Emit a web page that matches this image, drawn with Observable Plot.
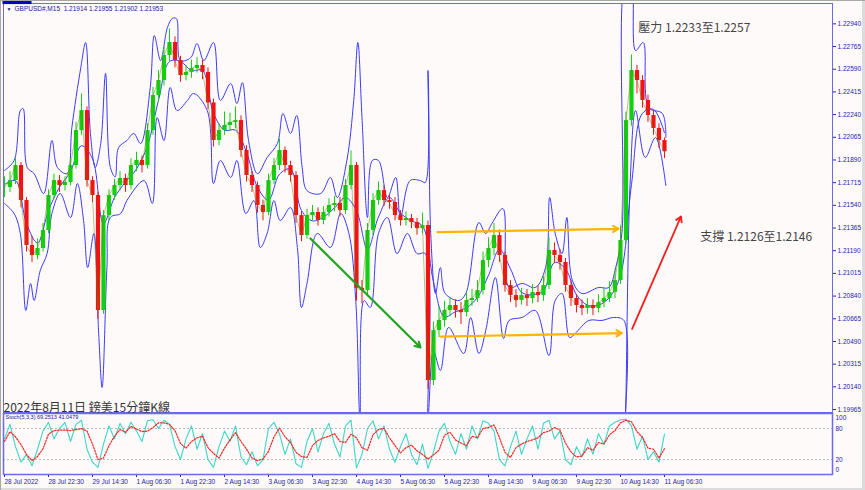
<!DOCTYPE html>
<html><head><meta charset="utf-8">
<script src="https://cdn.jsdelivr.net/npm/d3@7"></script>
<script src="https://cdn.jsdelivr.net/npm/@observablehq/plot@0.6"></script>
<style>
body{margin:0;background:#fffafa;}
#wrap{position:relative;width:865px;height:490px;background:#fffafa;overflow:hidden;}
#main{position:absolute;left:0;top:0;}
#stoch{position:absolute;left:0;top:412px;}
#edge{position:absolute;left:0;top:0;width:865px;height:490px;pointer-events:none;box-shadow: inset 1px 1px 0 #a8a8a8, inset -3px -2px 0 #dcdcdc;}
</style></head><body><div id="wrap"><div id="main"></div><div id="stoch"></div><div id="edge"></div></div>
<script>
// ---- data ----
const barStep = 8; // one aggregated candle every 8 M15 bars
const closes = [
1.21677,1.21731,1.21847,1.21577,1.21230,1.21153,1.21207,1.21346,1.21616,1.21731,
1.21693,1.21716,1.21847,1.22117,1.22271,1.21731,1.21616,1.20729,1.21461,1.21616,
1.21693,1.21747,1.21693,1.21847,1.21886,1.21847,1.22117,1.22387,1.22503,1.22696,
1.22796,1.22657,1.22541,1.22565,1.22595,1.22619,1.22565,1.22330,1.22040,1.22117,
1.22156,1.22179,1.22194,1.21963,1.21770,1.21693,1.21539,1.21485,1.21731,1.21847,
1.21963,1.21847,1.21770,1.21461,1.21307,1.21461,1.21485,1.21423,1.21485,1.21539,
1.21554,1.21500,1.21693,1.21847,1.20900,1.20883,1.21346,1.21577,1.21654,1.21577,
1.21562,1.21461,1.21423,1.21438,1.21407,1.21361,1.21384,1.20189,1.20574,1.20652,
1.20729,1.20767,1.20729,1.20713,1.20806,1.20821,1.20883,1.21114,1.21207,1.21307,
1.21153,1.20922,1.20844,1.20806,1.20844,1.20821,1.20868,1.20844,1.20922,1.21192,
1.21153,1.21099,1.20922,1.20821,1.20767,1.20744,1.20767,1.20744,1.20790,1.20821,
1.20868,1.20960,1.21269,1.22194,1.22580,1.22503,1.22349,1.22233,1.22133,1.22040,
1.21953];
const highs = [
1.21760,1.21800,1.21900,1.21870,1.21600,1.21300,1.21280,1.21400,1.21660,1.21780,
1.21770,1.21760,1.21900,1.22180,1.22400,1.22300,1.21760,1.21640,1.21500,1.21660,
1.21740,1.21800,1.21780,1.21900,1.21950,1.21920,1.22170,1.22450,1.22580,1.22760,
1.22900,1.22840,1.22690,1.22620,1.22660,1.22680,1.22660,1.22600,1.22360,1.22170,
1.22260,1.22250,1.22300,1.22230,1.22000,1.21800,1.21720,1.21580,1.21780,1.21900,
1.22050,1.21990,1.21880,1.21800,1.21490,1.21510,1.21540,1.21520,1.21530,1.21590,
1.21610,1.21600,1.21740,1.21960,1.21870,1.20960,1.21400,1.21630,1.21720,1.21690,
1.21620,1.21600,1.21500,1.21490,1.21470,1.21440,1.21480,1.21420,1.20640,1.20760,
1.20800,1.20830,1.20810,1.20790,1.20870,1.20890,1.20960,1.21180,1.21290,1.21400,
1.21350,1.21180,1.20960,1.20890,1.20900,1.20890,1.20930,1.20920,1.20990,1.21290,
1.21250,1.21200,1.21130,1.20960,1.20850,1.20810,1.20820,1.20810,1.20850,1.20900,
1.20950,1.21040,1.21380,1.22260,1.22700,1.22620,1.22540,1.22390,1.22270,1.22170,
1.22060];
const lows = [
1.21600,1.21640,1.21700,1.21520,1.21180,1.21100,1.21120,1.21180,1.21320,1.21590,
1.21640,1.21650,1.21690,1.21820,1.22080,1.21680,1.21560,1.20660,1.20700,1.21420,
1.21580,1.21650,1.21640,1.21660,1.21800,1.21790,1.21820,1.22080,1.22340,1.22460,
1.22650,1.22600,1.22490,1.22500,1.22520,1.22560,1.22510,1.22280,1.21990,1.22000,
1.22080,1.22110,1.22130,1.21910,1.21720,1.21640,1.21480,1.21420,1.21460,1.21700,
1.21810,1.21790,1.21720,1.21400,1.21260,1.21280,1.21420,1.21380,1.21390,1.21450,
1.21490,1.21450,1.21470,1.21660,1.20800,1.20780,1.20850,1.21310,1.21540,1.21530,
1.21510,1.21420,1.21380,1.21380,1.21360,1.21310,1.21320,1.20120,1.20150,1.20520,
1.20600,1.20680,1.20670,1.20620,1.20680,1.20760,1.20790,1.20850,1.21060,1.21150,
1.21100,1.20870,1.20790,1.20750,1.20770,1.20760,1.20780,1.20790,1.20800,1.20890,
1.21090,1.21040,1.20870,1.20760,1.20710,1.20690,1.20700,1.20690,1.20710,1.20750,
1.20790,1.20820,1.20930,1.21240,1.22150,1.22400,1.22290,1.22180,1.22080,1.21980,
1.21900];
const upperBars = [0,14,23,27,33,43,57,69,77,91,98,111,118,125,132,140,147,154,161,166,178,188,198,212,218,227,237,244,250,256,271,280,290,304,314,329,338,346,355,368,382,397,405,416,425,433,440,460,474,484,498,508,514,520,528,535,544,557,569,576,590,605,612,616,620,627,634,641,661,671,690,700,709,725,734,753,772,787,793,801,811,818,826,840,864,879,889,898,904,911,918,929,937,957,962];
const upperVals = [1.21809,1.21886,1.22271,1.22287,1.21832,1.21785,1.21631,1.22040,1.21832,1.21785,1.22140,1.22603,1.22796,1.22094,1.21832,1.22017,1.22557,1.21832,1.21760,1.21986,1.22040,1.22094,1.22017,1.22449,1.22850,1.22657,1.22912,1.22981,1.22981,1.22657,1.22680,1.22788,1.22657,1.22796,1.22349,1.22480,1.22325,1.22487,1.22040,1.21785,1.21909,1.22017,1.22248,1.22094,1.22233,1.21832,1.21654,1.21631,1.21755,1.21600,1.21886,1.22349,1.22796,1.22217,1.21446,1.21886,1.21886,1.21600,1.21755,1.21446,1.21731,1.21731,1.21716,1.22580,1.21323,1.20860,1.21060,1.20860,1.20806,1.20860,1.21407,1.21323,1.21400,1.21515,1.20906,1.20937,1.20906,1.21060,1.21600,1.21323,1.21168,1.21446,1.20960,1.20860,1.20906,1.20906,1.21060,1.21323,1.2330,1.2330,1.22734,1.22796,1.22295,1.22248,1.22063];
const lowerBars = [0,14,23,31,38,43,52,62,69,81,96,106,115,121,130,137,142,149,154,169,178,203,215,222,232,241,251,266,275,295,304,314,329,338,351,363,372,382,392,401,416,426,432,440,455,474,489,501,511,517,523,532,544,557,571,586,600,612,616,624,634,646,668,678,690,700,714,726,734,753,772,792,801,811,822,830,850,869,886,901,903,910,918,932,947,962];
const lowerVals = [1.21554,1.21477,1.21323,1.20729,1.20937,1.20806,1.21037,1.21168,1.21477,1.21631,1.21446,1.21708,1.21423,1.21060,1.21323,1.20551,1.20135,1.21060,1.21446,1.21477,1.21577,1.21731,1.21554,1.22217,1.22040,1.22449,1.22271,1.22349,1.22403,1.22270,1.21708,1.21886,1.21755,1.21886,1.21477,1.21577,1.21215,1.21323,1.21577,1.21423,1.21523,1.21215,1.20752,1.20937,1.21323,1.21215,1.21477,1.21323,1.20800,1.1990,1.20806,1.20752,1.21323,1.21446,1.21168,1.21323,1.21168,1.21168,1.1990,1.20420,1.20266,1.20598,1.20397,1.20675,1.20397,1.20574,1.20983,1.20513,1.20652,1.20675,1.20729,1.20381,1.20806,1.20860,1.20520,1.20551,1.20652,1.20652,1.20675,1.20652,1.1990,1.21708,1.22271,1.21909,1.22063,1.21693];
const midStep = 16;
const midVals = [1.2170,1.2173,1.2140,1.2125,1.2150,1.2168,1.2180,1.2200,1.2190,1.2140,1.2160,1.2172,1.2182,1.2200,1.2235,1.2265,1.2265,1.2258,1.2258,1.2225,1.2212,1.2212,1.2195,1.2168,1.2158,1.2178,1.2182,1.2150,1.2142,1.2145,1.2152,1.2160,1.2150,1.2120,1.2145,1.2160,1.2148,1.2142,1.2138,1.2095,1.2068,1.2072,1.2075,1.2083,1.2100,1.2120,1.2105,1.2087,1.2085,1.2088,1.2110,1.2105,1.2085,1.2077,1.2077,1.2083,1.2100,1.2170,1.2225,1.2228,1.2210];
const stochK = [60,88,45,15,30,8,40,75,92,60,80,
92,55,88,96,40,15,5,50,85,60,
90,70,92,75,55,95,97,80,96,88,
45,20,60,85,40,70,20,5,45,75,
55,85,25,10,35,8,20,80,92,70,
30,60,12,5,55,80,35,70,90,50,
25,85,96,4,30,80,95,60,85,40,
15,45,70,30,10,50,3,35,75,90,
55,30,70,40,85,60,95,90,75,20,
8,45,75,30,60,85,40,90,96,60,
75,20,10,45,25,60,30,70,50,85,
92,97,98,85,40,65,20,35,15,69.25];
const stochD = [55,74,64,49,30,18,26,41,69,76,77,
77,76,78,80,75,50,20,23,47,65,
78,73,84,79,74,75,82,91,91,88,
76,51,42,55,62,65,43,32,23,42,
58,72,55,40,23,18,21,36,64,81,
64,53,34,26,24,47,57,62,65,70,
55,53,69,62,43,38,68,78,80,62,
47,33,43,48,37,30,21,29,38,67,
73,58,52,47,65,62,80,82,87,62,
34,24,43,50,55,58,62,72,75,82,
77,52,35,25,27,43,38,53,50,68,
76,91,96,93,74,63,42,40,23,41.05];
const stochLevels = [20, 80];
const stochTicks = [0, 20, 80, 100];
const priceTicks = [1.22940,1.22765,1.22590,1.22415,1.22240,1.22065,1.21890,1.21715,1.21540,1.21365,1.21190,1.21015,1.20840,1.20665,1.20490,1.20315,1.20140,1.19965];
const timeBars = [0,64,128,192,256,320,384,448,512,576,640,704,768,832,896,960];
const timeLabels = ["28 Jul 2022","28 Jul 22:30","29 Jul 14:30","1 Aug 06:30","1 Aug 22:30","2 Aug 14:30","3 Aug 06:30","3 Aug 22:30","4 Aug 14:30","5 Aug 06:30","5 Aug 22:30","8 Aug 14:30","9 Aug 06:30","9 Aug 22:30","10 Aug 14:30","11 Aug 06:30"];
const headerText = "GBPUSD#,M15  1.21914 1.21955 1.21902 1.21953";
const stochText = "Stoch(5,3,3) 69.2513 41.0479";
const titleText = "2022年8月11日 鎊美15分鐘K線";
const notes = [
  {bar: 922, price: 1.22904, text: "壓力 1.2233至1.2257"},
  {bar: 1012, price: 1.21292, text: "支撐 1.2126至1.2146"}
];
const arrows = [
  {b1: 445, p1: 1.21284, b2: 605, p2: 1.20443, color: "#1fa51f", w: 2.2},
  {b1: 630, p1: 1.21333, b2: 893, p2: 1.21359, color: "#ffb400", w: 2.2},
  {b1: 634, p1: 1.20528, b2: 898, p2: 1.20554, color: "#ffb400", w: 2.2},
  {b1: 913, p1: 1.20587, b2: 984, p2: 1.21454, color: "#ff1a1a", w: 1.8}
];

// ---- derived tables ----
const candles = closes.map((c, i) => ({bar: i * barStep, open: i ? closes[i - 1] : c, close: c, high: highs[i], low: lows[i]}));
const upCandles = candles.filter(d => d.close >= d.open);
const downCandles = candles.filter(d => d.close < d.open);
const upper = upperBars.map((b, i) => ({bar: b, v: upperVals[i]}));
const lower = lowerBars.map((b, i) => ({bar: b, v: lowerVals[i]}));
const mid = midVals.map((v, i) => ({bar: i * midStep, v}));
const stoch = stochK.map((k, i) => ({bar: i * barStep, k, d: stochD[i]}));
const lastClose = closes[closes.length - 1];

const xDomain = [-1.45, 1204.4];
const font = "Liberation Sans, Arial, sans-serif";
const cjk = "Noto Sans CJK TC, Noto Sans CJK SC, sans-serif";
const blue = "#3a3aff";
const axisColor = "#2323b0";
const upColor = "#10d010", downColor = "#f01414";

const main = Plot.plot({
  width: 865, height: 413,
  marginLeft: 3, marginRight: 33, marginTop: 3, marginBottom: 1,
  x: {domain: xDomain, axis: null},
  y: {domain: [1.19942, 1.23097], axis: null},
  style: {background: "transparent", fontFamily: font, fontSize: "6.5px", color: axisColor},
  marks: [
    Plot.line(upper, {x: "bar", y: "v", stroke: blue, strokeWidth: 1, clip: true, curve: "catmull-rom"}),
    Plot.line(lower, {x: "bar", y: "v", stroke: blue, strokeWidth: 1, clip: true, curve: "catmull-rom"}),
    Plot.line(mid, {x: "bar", y: "v", stroke: blue, strokeWidth: 1, clip: true, curve: "catmull-rom"}),
    Plot.ruleX(downCandles, {x: "bar", y1: "low", y2: "high", stroke: downColor, strokeWidth: 1, clip: true}),
    Plot.ruleX(upCandles, {x: "bar", y1: "low", y2: "high", stroke: upColor, strokeWidth: 1, clip: true}),
    Plot.ruleX(downCandles, {x: "bar", y1: "open", y2: "close", stroke: downColor, strokeWidth: 4.2, clip: true}),
    Plot.ruleX(upCandles, {x: "bar", y1: "open", y2: "close", stroke: upColor, strokeWidth: 4.2, clip: true}),
    Plot.line(candles, {x: "bar", y: "close", stroke: "#6f7f00", strokeWidth: 0.8, strokeOpacity: 0.6, clip: true}),
    Plot.arrow(arrows, {x1: "b1", y1: "p1", x2: "b2", y2: "p2", stroke: "color", strokeWidth: "w", headLength: 9}),
    Plot.axisY({anchor: "right", ticks: priceTicks, tickFormat: d => d.toFixed(5), tickSize: 3, tickPadding: 2, fontSize: 6.5, label: null}),
    Plot.frame({stroke: "#6a6af0"}),
    Plot.text([headerText], {frameAnchor: "top-left", dx: 11, dy: 3, lineAnchor: "top", textAnchor: "start", fill: "#18189a", fontSize: 6.5}),
    Plot.text(["▼"], {frameAnchor: "top-left", dx: 3, dy: 4, lineAnchor: "top", textAnchor: "start", fill: "#18189a", fontSize: 5}),
    Plot.text(notes, {x: "bar", y: "price", text: "text", textAnchor: "start", fill: "#444", fontSize: 12, fontFamily: cjk}),
    Plot.text([titleText], {frameAnchor: "bottom-left", dx: 0, dy: -1, lineAnchor: "bottom", textAnchor: "start", fill: "#333", fontSize: 12, fontFamily: cjk}),
    Plot.text([lastClose], {y: d => d, text: d => d.toFixed(5), frameAnchor: "right", dx: 3, textAnchor: "start", fill: "white", fontSize: 6.5, className: "curprice"})
  ]
});
document.getElementById("main").appendChild(main);
// background box for the current-price label
d3.select(main).selectAll("g.curprice text").each(function() {
  const b = this.getBBox();
  d3.select(this.parentNode).insert("rect", "text")
    .attr("x", b.x - 1).attr("y", b.y - 0.5).attr("width", 29).attr("height", b.height + 1)
    .attr("fill", "#0000c8");
});

const st = Plot.plot({
  width: 865, height: 78,
  marginLeft: 3, marginRight: 33, marginTop: 1, marginBottom: 16,
  x: {domain: xDomain, axis: null},
  y: {domain: [-8.8, 109], axis: null},
  style: {background: "transparent", fontFamily: font, fontSize: "6.5px", color: axisColor},
  marks: [
    Plot.ruleY(stochLevels, {stroke: "#b8b8b8", strokeDasharray: "2,2", strokeWidth: 1}),
    Plot.line(stoch, {x: "bar", y: "k", stroke: "#3cd6c8", strokeWidth: 1.1}),
    Plot.line(stoch, {x: "bar", y: "d", stroke: "#ff2020", strokeWidth: 1.2, strokeDasharray: "1.5,1.5"}),
    Plot.axisY({anchor: "right", ticks: stochTicks, tickSize: 0, tickPadding: 3, fontSize: 6.5, label: null}),
    Plot.axisX({anchor: "bottom", ticks: timeBars, tickFormat: d => timeLabels[timeBars.indexOf(d)], textAnchor: "start", tickSize: 3, tickPadding: 2, fontSize: 6.5, label: null}),
    Plot.frame({stroke: "#6a6af0", strokeWidth: 1.5}),
    Plot.text([stochText], {frameAnchor: "top-left", dx: 2, dy: 2, lineAnchor: "top", textAnchor: "start", fill: "#18189a", fontSize: 5.5})
  ]
});
document.getElementById("stoch").appendChild(st);
</script></body></html>
